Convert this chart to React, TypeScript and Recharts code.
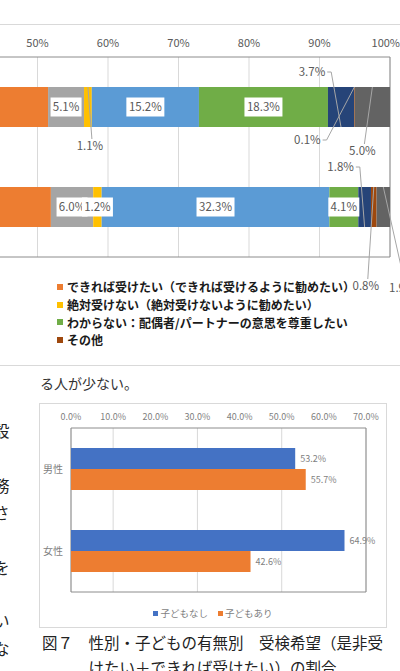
import { BarChart, Bar, XAxis, YAxis, CartesianGrid, LabelList, ReferenceArea } from "recharts";

const FONT = '"Noto Sans CJK JP", "Noto Sans", sans-serif';

// --- stacked answers (upper chart) ---
const answerGroups = ["男性", "女性"];
const zehiUketai = [20.0, 18.6];
const dekirebaUketai = [31.5, 33.3];
const amariUketakunai = [5.1, 6.0];
const zettaiUkenai = [1.1, 1.2];
const wakaranaiJibun = [15.2, 32.3];
const wakaranaiPartner = [18.3, 4.1];
const wakaranaiOther = [3.7, 1.8];
const sonota = [0.1, 0.8];
const mukaitou = [5.0, 1.9];
// only the right half of the scale is on the page
const percentTicks = [50, 60, 70, 80, 90, 100];

const stackSeries = [
  { key: "zehi", values: zehiUketai, color: "#4472C4", labelled: false },
  { key: "dekireba", values: dekirebaUketai, color: "#ED7D31", labelled: false },
  { key: "amari", values: amariUketakunai, color: "#A5A5A5", labelled: true },
  { key: "zettai", values: zettaiUkenai, color: "#FFC000", labelled: true },
  { key: "wakaJibun", values: wakaranaiJibun, color: "#5B9BD5", labelled: true },
  { key: "wakaPartner", values: wakaranaiPartner, color: "#70AD47", labelled: true },
  { key: "wakaOther", values: wakaranaiOther, color: "#264478", labelled: true },
  { key: "sonota", values: sonota, color: "#9E480E", labelled: true },
  { key: "mukaitou", values: mukaitou, color: "#636363", labelled: true },
];

const stackRows = answerGroups.map((name, i) => {
  const row: Record<string, string | number> = { name };
  stackSeries.forEach((s) => (row[s.key] = s.values[i]));
  return row;
});

// small segments get a label pulled out with a leader line (offset from segment centre)
const calloutOffsets: Record<string, ({ dx: number; dy: number } | null)[]> = {
  zettai: [{ dx: 2, dy: 39 }, null],
  wakaOther: [{ dx: -29, dy: -35 }, { dx: -24, dy: -40 }],
  sonota: [{ dx: -47, dy: 33 }, { dx: -8, dy: 79 }],
  mukaitou: [{ dx: -10, dy: 44 }, { dx: 19, dy: 81 }],
};

const topLegend = [
  { label: "できれば受けたい（できれば受けるように勧めたい）", color: "#ED7D31" },
  { label: "絶対受けない（絶対受けないように勧めたい）", color: "#FFC000" },
  { label: "わからない：配偶者/パートナーの意思を尊重したい", color: "#70AD47" },
  { label: "その他", color: "#9E480E" },
];

// --- share by gender / children (lower chart) ---
const genders = ["男性", "女性"];
const noChildren = [53.2, 64.9];
const withChildren = [55.7, 42.6];
const shareTicks = [0, 10, 20, 30, 40, 50, 60, 70];

const shareRows = genders.map((name, i) => ({ name, none: noChildren[i], some: withChildren[i] }));

function segmentLabel(key: string) {
  return (props: any) => {
    const vb = props.viewBox ?? props;
    const x = Number(vb.x);
    const y = Number(vb.y);
    const w = Number(vb.width);
    const h = Number(vb.height);
    const value = props.value;
    if (value == null || isNaN(x)) return null;
    const text = `${Number(value).toFixed(1)}%`;
    const cx = x + w / 2;
    const cy = y + h / 2;
    const callout = calloutOffsets[key]?.[props.index];

    if (!callout) {
      const bw = text.length * 7 + 3;
      return (
        <g>
          <rect x={cx - bw / 2} y={cy - 9.5} width={bw} height={19} fill="#fff" />
          <text x={cx} y={cy} dy="0.36em" textAnchor="middle" fontSize={11.5} fill="#595959" fontFamily={FONT}>
            {text}
          </text>
        </g>
      );
    }

    const lx = cx + callout.dx;
    const ly = cy + callout.dy;
    const half = (text.length * 6.6) / 2;
    const above = callout.dy < 0;
    const farY = above ? y + h : y;
    let points: string;
    if (Math.abs(callout.dx) > 15 && Math.abs(callout.dy) < 50) {
      // label sits beside the bar: leave from its right side
      points = `${lx + half + 2},${ly} ${lx + half + 6},${ly} ${cx},${farY}`;
    } else {
      const sy = above ? ly + 7 : ly - 7;
      points = `${lx + 2},${sy} ${cx},${farY}`;
    }
    return (
      <g>
        <polyline points={points} fill="none" stroke="#a6a6a6" strokeWidth={1} />
        <text x={lx} y={ly} dy="0.36em" textAnchor="middle" fontSize={11.5} fill="#595959" fontFamily={FONT}>
          {text}
        </text>
      </g>
    );
  };
}

// clipped line ends of the neighbouring text column
const sideFragments = [
  { ch: "設", y: 430 },
  { ch: "務", y: 485 },
  { ch: "さ", y: 512 },
  { ch: "を", y: 567 },
  { ch: "い", y: 620 },
  { ch: "な", y: 648 },
];

export default function App() {
  return (
    <div
      style={{
        position: "absolute",
        left: 0,
        top: 0,
        width: 400,
        height: 671,
        overflow: "hidden",
        background: "#fff",
        fontFamily: FONT,
      }}
    >
      {/* frame of the upper chart */}
      <div
        style={{
          position: "absolute",
          left: -400,
          top: 24,
          width: 820,
          height: 342,
          border: "1px solid #d9d9d9",
          boxSizing: "border-box",
        }}
      />

      <div style={{ position: "absolute", left: -330, top: 24 }}>
        <BarChart
          width={730}
          height={290}
          data={stackRows}
          layout="vertical"
          barSize={40}
          margin={{ top: 3, right: 10, bottom: 57, left: 15 }}
        >
          <CartesianGrid vertical horizontal={false} stroke="#d9d9d9" />
          <XAxis
            type="number"
            orientation="top"
            domain={[0, 100]}
            ticks={percentTicks}
            tickFormatter={(v: number) => `${v}%`}
            axisLine={false}
            tickLine={false}
            tickMargin={4}
            height={30}
            tick={{ fontSize: 11, fill: "#595959", fontFamily: FONT }}
          />
          <YAxis type="category" dataKey="name" hide />
          <ReferenceArea x1={0} x2={100} fill="none" stroke="#8c8c8c" strokeWidth={1} />
          {stackSeries.map((s) => (
            <Bar key={s.key} dataKey={s.key} stackId="a" fill={s.color} isAnimationActive={false}>
              {s.labelled && <LabelList dataKey={s.key} content={segmentLabel(s.key)} />}
            </Bar>
          ))}
        </BarChart>
      </div>

      {/* legend of the upper chart */}
      <div style={{ position: "absolute", left: 57, top: 278 }}>
        {topLegend.map((item) => (
          <div
            key={item.label}
            style={{ display: "flex", alignItems: "center", height: 17.7, whiteSpace: "nowrap" }}
          >
            <span style={{ width: 6, height: 6, background: item.color, marginRight: 4 }} />
            <span style={{ fontSize: 12, fontWeight: 700, color: "#1a1a1a" }}>{item.label}</span>
          </div>
        ))}
      </div>

      {sideFragments.map((f) => (
        <div
          key={f.y}
          style={{
            position: "absolute",
            left: -6,
            top: f.y - 11,
            fontSize: 15.5,
            lineHeight: "22px",
            color: "#222",
          }}
        >
          {f.ch}
        </div>
      ))}

      <div
        style={{
          position: "absolute",
          left: 40,
          top: 372,
          fontSize: 14,
          lineHeight: "22px",
          color: "#333",
          whiteSpace: "nowrap",
        }}
      >
        る人が少ない。
      </div>

      {/* frame of the lower chart */}
      <div
        style={{
          position: "absolute",
          left: 39,
          top: 403,
          width: 348,
          height: 225,
          border: "1px solid #d9d9d9",
          boxSizing: "border-box",
        }}
      />

      <div style={{ position: "absolute", left: 39, top: 403 }}>
        <BarChart
          width={348}
          height={225}
          data={shareRows}
          layout="vertical"
          barSize={21}
          barGap={0}
          margin={{ top: 5, right: 21, bottom: 36, left: 0 }}
        >
          <CartesianGrid vertical horizontal={false} stroke="#d9d9d9" />
          <XAxis
            type="number"
            orientation="top"
            domain={[0, 70]}
            ticks={shareTicks}
            tickFormatter={(v: number) => `${v.toFixed(1)}%`}
            axisLine={false}
            tickLine={false}
            height={20}
            tick={{ fontSize: 9, fill: "#7f7f7f", fontFamily: FONT }}
          />
          <YAxis
            type="category"
            dataKey="name"
            width={32}
            axisLine={false}
            tickLine={false}
            tick={{ fontSize: 10, fill: "#7f7f7f", fontFamily: FONT }}
          />
          <ReferenceArea x1={0} x2={70} fill="none" stroke="#8c8c8c" strokeWidth={1} />
          <Bar dataKey="none" fill="#4472C4" isAnimationActive={false}>
            <LabelList
              dataKey="none"
              position="right"
              offset={5}
              formatter={(v: any) => `${Number(v).toFixed(1)}%`}
              style={{ fontSize: 9, fill: "#7f7f7f", fontFamily: FONT }}
            />
          </Bar>
          <Bar dataKey="some" fill="#ED7D31" isAnimationActive={false}>
            <LabelList
              dataKey="some"
              position="right"
              offset={5}
              formatter={(v: any) => `${Number(v).toFixed(1)}%`}
              style={{ fontSize: 9, fill: "#7f7f7f", fontFamily: FONT }}
            />
          </Bar>
        </BarChart>
      </div>

      {/* legend of the lower chart */}
      <div
        style={{
          position: "absolute",
          left: 39,
          width: 348,
          top: 606,
          display: "flex",
          justifyContent: "center",
          gap: 10,
          fontSize: 9.5,
          color: "#7f7f7f",
          lineHeight: "14px",
        }}
      >
        <span style={{ display: "flex", alignItems: "center" }}>
          <span style={{ width: 5, height: 5, background: "#4472C4", marginRight: 2 }} />
          子どもなし
        </span>
        <span style={{ display: "flex", alignItems: "center" }}>
          <span style={{ width: 5, height: 5, background: "#ED7D31", marginRight: 2 }} />
          子どもあり
        </span>
      </div>

      <div
        style={{
          position: "absolute",
          left: 42,
          width: 341,
          top: 630,
          textAlign: "center",
          fontSize: 15.5,
          lineHeight: "25px",
          color: "#222",
          whiteSpace: "nowrap",
        }}
      >
        <div>図７　性別・子どもの有無別　受検希望（是非受</div>
        <div>けたい＋できれば受けたい）の割合</div>
      </div>
    </div>
  );
}
